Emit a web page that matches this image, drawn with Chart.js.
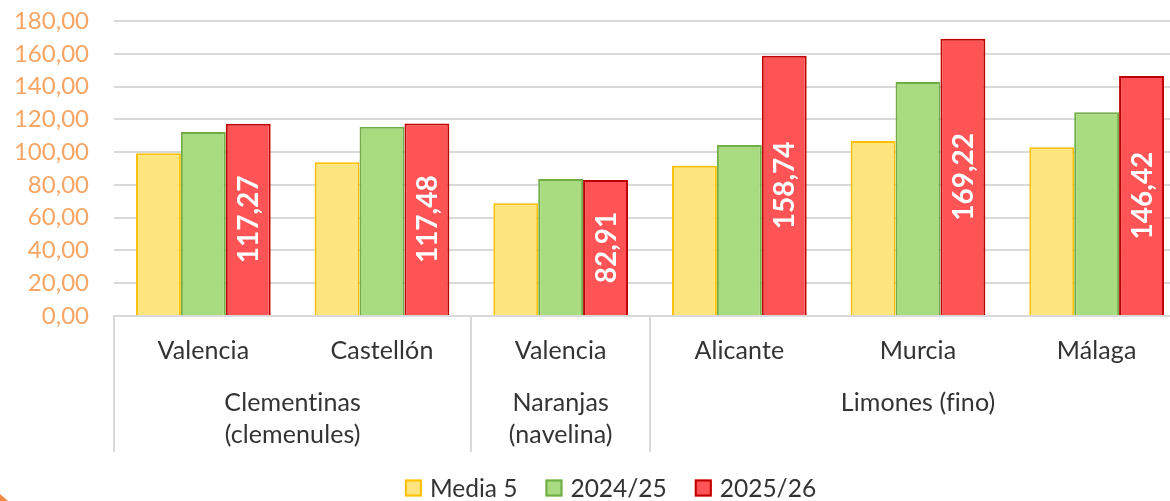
<!DOCTYPE html>
<html>
<head>
<meta charset="utf-8">
<script src="https://cdn.jsdelivr.net/npm/chart.js@4/dist/chart.umd.min.js"></script>
<style>
  html, body { margin: 0; padding: 0; background: #ffffff; overflow: hidden; }
  #wrap { width: 1190px; height: 501px; }
</style>
</head>
<body>
<div id="wrap"><canvas id="c" width="1190" height="501"></canvas></div>
<script>
// ---- data ----
const regiones = ['Valencia', 'Castellón', 'Valencia', 'Alicante', 'Murcia', 'Málaga'];
const productos = [['Clementinas', '(clemenules)'], ['Naranjas', '(navelina)'], ['Limones (fino)']];
const productoDesde = [0, 2, 3];
const productoHasta = [1, 2, 5];
const seriesNombres = ['Media 5', '2024/25', '2025/26'];
const media5 = [99.3, 93.8, 68.8, 91.7, 106.8, 102.9];
const campana2425 = [112.3, 115.5, 83.6, 104.3, 142.8, 124.3];
const campana2526 = [117.27, 117.48, 82.91, 158.74, 169.22, 146.42];
const yMin = 0, yMax = 180, yStep = 20;

// ---- style ----
const FONT = 'Lato, "Open Sans", sans-serif';
const fills = ['#FFE57F', '#A9DB80', '#FF5455'];
const borders = ['#FFC000', '#70AD47', '#C00000'];
const tickColor = '#F7A564';
const textColor = '#333333';
const lineColor = '#D9D9D9';

const fmt = v => v.toFixed(2).replace('.', ',');

function spacing(ctx, px) {
  if ('letterSpacing' in ctx) ctx.letterSpacing = px + 'px';
}

const bottomPlugin = {
  id: 'bottomPlugin',
  afterDatasetsDraw(chart) {
    const ctx = chart.ctx;
    const meta = chart.getDatasetMeta(2);
    ctx.save();
    ctx.fillStyle = '#FFFFFF';
    ctx.font = 'bold 28px ' + FONT;
    ctx.textAlign = 'center';
    ctx.textBaseline = 'middle';
    meta.data.forEach((bar, i) => {
      const cy = (bar.y + bar.base) / 2;
      ctx.save();
      ctx.translate(bar.x + 1, cy);
      ctx.rotate(-Math.PI / 2);
      ctx.fillText(fmt(chart.data.datasets[2].data[i]), 0, 0);
      ctx.restore();
    });
    ctx.restore();
  },
  afterDraw(chart) {
    const ctx = chart.ctx;
    const x = chart.scales.x;
    const area = chart.chartArea;
    const n = regiones.length;
    const edge = i => {
      if (i <= 0) return area.left;
      if (i >= n) return area.right;
      return (x.getPixelForValue(i - 1) + x.getPixelForValue(i)) / 2;
    };
    ctx.save();
    ctx.strokeStyle = lineColor;
    ctx.lineWidth = 2;
    const seps = productoDesde.concat([n]);
    seps.forEach(i => {
      const px = Math.round(edge(i));
      ctx.beginPath();
      ctx.moveTo(px, area.bottom);
      ctx.lineTo(px, 452);
      ctx.stroke();
    });
    spacing(ctx, 0.1);
    ctx.fillStyle = textColor;
    ctx.font = '25px ' + FONT;
    ctx.textAlign = 'center';
    ctx.textBaseline = 'middle';
    regiones.forEach((r, i) => {
      ctx.fillText(r, x.getPixelForValue(i), 351);
    });
    productos.forEach((lines, g) => {
      const cx = (edge(productoDesde[g]) + edge(productoHasta[g] + 1)) / 2;
      lines.forEach((t, k) => {
        ctx.fillText(t, cx, 403 + k * 32);
      });
    });
    // legend
    spacing(ctx, 0);
    ctx.font = '24.5px ' + FONT;
    ctx.textAlign = 'left';
    const box = 17, gapText = 8, gapItem = 28;
    const widths = seriesNombres.map(s => box + gapText + ctx.measureText(s).width);
    const total = widths.reduce((a, b) => a + b, 0) + gapItem * (widths.length - 1);
    let lx = 610.5 - total / 2;
    const ly = 488;
    seriesNombres.forEach((s, i) => {
      ctx.fillStyle = fills[i];
      ctx.fillRect(lx, ly - box / 2, box, box);
      ctx.strokeStyle = borders[i];
      ctx.lineWidth = 2;
      ctx.strokeRect(lx + 1, ly - box / 2 + 1, box - 2, box - 2);
      ctx.fillStyle = textColor;
      ctx.fillText(s, lx + box + gapText, ly + 1);
      lx += widths[i] + gapItem;
    });
    ctx.fillStyle = '#F08A45';
    ctx.beginPath();
    ctx.moveTo(0, 494);
    ctx.lineTo(8, 501);
    ctx.lineTo(0, 501);
    ctx.closePath();
    ctx.fill();
    ctx.restore();
  }
};

const datasets = [media5, campana2425, campana2526].map((d, i) => ({
  label: seriesNombres[i],
  data: d,
  backgroundColor: fills[i],
  borderColor: borders[i],
  borderWidth: 2,
  borderSkipped: 'start',
  categoryPercentage: 0.754,
  barPercentage: 1.0
}));

new Chart(document.getElementById('c'), {
  type: 'bar',
  data: { labels: regiones, datasets },
  options: {
    responsive: false,
    animation: false,
    devicePixelRatio: 1,
    layout: { padding: { top: 21, right: 4, left: 0, bottom: 0 } },
    plugins: { legend: { display: false }, tooltip: { enabled: false } },
    scales: {
      x: {
        ticks: { display: false },
        grid: { display: false, drawTicks: false },
        border: { display: true, color: lineColor, width: 2 },
        afterFit(s) { s.height = 185; }
      },
      y: {
        min: yMin, max: yMax,
        afterBuildTicks(s) {
          const t = [];
          for (let v = yMin; v <= yMax; v += yStep) t.push({ value: v });
          s.ticks = t;
        },
        ticks: {
          autoSkip: false,
          stepSize: yStep,
          padding: 3,
          color: tickColor,
          font: { family: FONT, size: 24 },
          callback: v => fmt(v)
        },
        grid: { color: lineColor, lineWidth: 2, drawTicks: true, tickLength: 22, tickColor: 'rgba(0,0,0,0)' },
        border: { display: false },
        afterFit(s) { s.width = 114; }
      }
    }
  },
  plugins: [bottomPlugin]
});
</script>
</body>
</html>
